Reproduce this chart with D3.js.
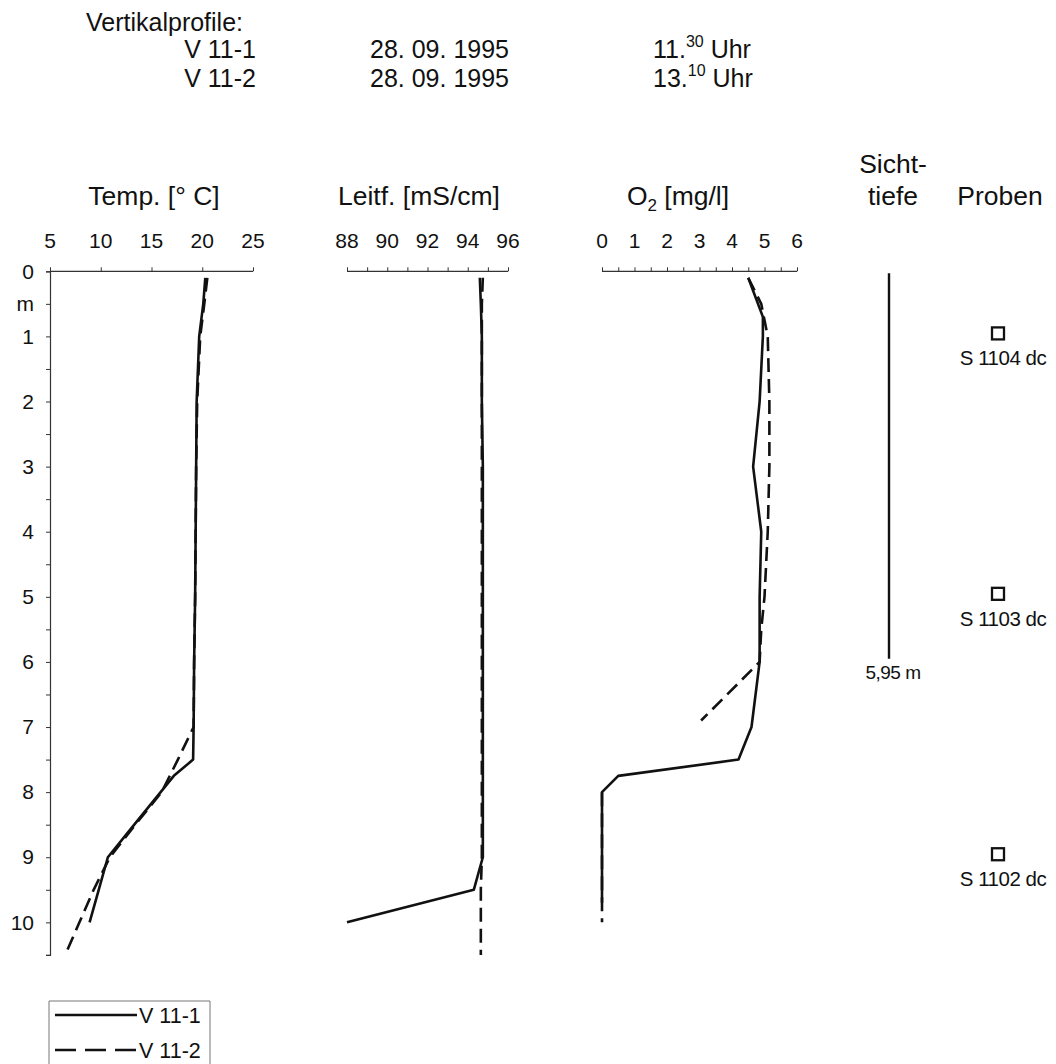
<!DOCTYPE html>
<html>
<head>
<meta charset="utf-8">
<script src="https://cdn.jsdelivr.net/npm/d3@7"></script>
<style>
  html, body { margin: 0; padding: 0; background: #fff; }
  svg { display: block; }
  text { font-family: "Liberation Sans", Arial, sans-serif; fill: #111; }
</style>
</head>
<body>
<svg id="chart" width="1056" height="1064"></svg>
<script>
// ---- Data: vertical profiles V 11-1 / V 11-2 (28.09.1995) ----
const tempDepth1 = [0.1, 0.5, 1, 2, 3, 4, 5, 6, 7, 7.5, 7.75, 8, 8.5, 9, 9.5, 10];
const tempV1     = [20.3, 20.1, 19.7, 19.45, 19.4, 19.35, 19.3, 19.2, 19.15, 19.1, 17.2, 15.9, 13.3, 10.7, 9.8, 8.9];
const tempDepth2 = [0.1, 0.5, 1, 2, 3, 4, 5, 6, 7, 7.5, 8, 8.5, 9, 9.5, 10, 10.5];
const tempV2     = [20.5, 20.2, 19.8, 19.5, 19.4, 19.35, 19.3, 19.2, 19.15, 17.6, 16.0, 13.4, 10.9, 9.3, 7.9, 6.5];

const condDepth1 = [0.1, 0.5, 1, 2, 3, 4, 5, 6, 7, 8, 9, 9.5, 10];
const condV1     = [94.6, 94.65, 94.7, 94.7, 94.75, 94.75, 94.75, 94.75, 94.75, 94.75, 94.75, 94.3, 88.0];
const condDepth2 = [0.1, 0.5, 1, 2, 3, 4, 5, 6, 7, 8, 9, 9.5, 10, 10.5];
const condV2     = [94.75, 94.7, 94.7, 94.7, 94.7, 94.7, 94.7, 94.7, 94.7, 94.7, 94.7, 94.65, 94.65, 94.65];

const oxyDepth1 = [0.1, 0.7, 1, 2, 3, 4, 5, 6, 6.8, 7, 7.5, 7.75, 8, 9, 9.7];
const oxyV1     = [4.5, 4.95, 4.95, 4.85, 4.65, 4.9, 4.85, 4.85, 4.65, 4.6, 4.2, 0.5, 0, 0, 0];
const oxyDepth2 = [0.1, 0.5, 1, 2, 3, 4, 5, 5.5, 6, 6.9, 7.5, 8, 9, 10];
const oxyV2     = [4.5, 4.9, 5.1, 5.15, 5.15, 5.1, 5.0, 4.9, 4.85, 3.05, null, 0, 0, 0];

const secchiDepth = 5.95;
const sampleNames  = ["S 1104 dc", "S 1103 dc", "S 1102 dc"];
const sampleDepths = [1, 5, 9];

const tempTicks  = [5, 10, 15, 20, 25];
const condTicks  = [88, 90, 92, 94, 96];
const oxyTicks   = [0, 1, 2, 3, 4, 5, 6];

const seriesNames = ["V 11-1", "V 11-2"];
const seriesDates = ["28. 09. 1995", "28. 09. 1995"];
const seriesHour  = ["11.", "13."];
const seriesMin   = ["30", "10"];

// ---- Layout ----
const svg = d3.select("#chart");
const DASH = "14,7";
const y = d3.scaleLinear().domain([0, 10.5]).range([271.3, 954.9]);

const xTemp = d3.scaleLinear().domain([5, 25]).range([50, 253]);
const xCond = d3.scaleLinear().domain([88, 96]).range([347, 508]);
const xOxy  = d3.scaleLinear().domain([0, 6]).range([602, 797]);

// Header block
const head = svg.append("g").style("font-size", "25px");
head.append("text").attr("x", 86).attr("y", 31).text("Vertikalprofile:");
seriesNames.forEach((n, i) => {
  const by = 58 + i * 29;
  head.append("text").attr("x", 256).attr("y", by).attr("text-anchor", "end").text(n);
  head.append("text").attr("x", 370).attr("y", by).text(seriesDates[i]);
  const t = head.append("text").attr("x", 653).attr("y", by);
  t.append("tspan").text(seriesHour[i]);
  t.append("tspan").attr("dy", -11).style("font-size", "16px").text(seriesMin[i]);
  t.append("tspan").attr("dy", 11).text("\u00a0Uhr");
});

// Panel titles
const titles = svg.append("g").style("font-size", "26.5px").attr("text-anchor", "middle");
titles.append("text").attr("x", 154).attr("y", 205).text("Temp. [° C]");
titles.append("text").attr("x", 419).attr("y", 205).text("Leitf. [mS/cm]");
const oxT = titles.append("text").attr("x", 678).attr("y", 205);
oxT.append("tspan").text("O");
oxT.append("tspan").attr("dy", 6).style("font-size", "17px").text("2");
oxT.append("tspan").attr("dy", -6).text(" [mg/l]");
titles.append("text").attr("x", 893).attr("y", 173).text("Sicht-");
titles.append("text").attr("x", 893).attr("y", 205).text("tiefe");
titles.append("text").attr("x", 1000).attr("y", 205).text("Proben");

// Depth axis (shared)
const depthAxis = d3.axisLeft(y)
  .tickValues(d3.range(0, 10.51, 0.5))
  .tickSize(4)
  .tickFormat(d => Number.isInteger(d) ? d : (d === 0.5 ? "m" : ""));
const gDepth = svg.append("g").attr("transform", "translate(50,0)").call(depthAxis);
gDepth.select(".domain").attr("stroke", "#333").attr("stroke-width", 1.2);
gDepth.selectAll(".tick line").attr("stroke", "#333").attr("stroke-width", 1);
gDepth.selectAll(".tick text")
  .attr("x", -16)
  .style("font-size", "21px")
  .style("font-family", "'Liberation Sans', Arial, sans-serif")
  .attr("fill", "#111");

// Horizontal value axes along the surface line
function topAxis(scale, ticks, minorStep) {
  const g = svg.append("g").attr("transform", `translate(0,${y(0)})`);
  const [a, b] = scale.domain();
  g.call(d3.axisTop(scale).tickValues(d3.range(a, b + 1e-9, minorStep)).tickSize(4).tickFormat(""));
  g.select(".domain").attr("stroke", "#333").attr("stroke-width", 1.2)
    .attr("d", `M${scale(a)},0H${scale(b)}`);
  g.selectAll(".tick line").attr("stroke", "#333").attr("stroke-width", 1);
  g.selectAll(".lab").data(ticks).enter().append("text")
    .attr("x", d => scale(d)).attr("y", 248 - y(0))
    .attr("text-anchor", "middle")
    .style("font-size", "21px")
    .text(d => d);
  return g;
}
topAxis(xTemp, tempTicks, 5);
topAxis(xCond, condTicks, 1);
topAxis(xOxy, oxyTicks, 0.5);

// Profile curves
function profile(scale, depths, vals, dashed) {
  const pts = depths.map((d, i) => [vals[i], d]);
  const line = d3.line()
    .defined(p => p[0] !== null)
    .x(p => scale(p[0]))
    .y(p => y(p[1]));
  svg.append("path")
    .attr("d", line(pts))
    .attr("fill", "none")
    .attr("stroke", "#111")
    .attr("stroke-width", 2.6)
    .attr("stroke-linejoin", "round")
    .attr("stroke-dasharray", dashed ? DASH : null);
}
profile(xTemp, tempDepth2, tempV2, true);
profile(xTemp, tempDepth1, tempV1, false);
profile(xCond, condDepth2, condV2, true);
profile(xCond, condDepth1, condV1, false);
profile(xOxy, oxyDepth2, oxyV2, true);
profile(xOxy, oxyDepth1, oxyV1, false);

// Secchi depth
svg.append("line")
  .attr("x1", 889).attr("x2", 889)
  .attr("y1", y(0) + 2).attr("y2", y(secchiDepth))
  .attr("stroke", "#111").attr("stroke-width", 2.4);
svg.append("text")
  .attr("x", 893).attr("y", y(secchiDepth) + 20)
  .attr("text-anchor", "middle")
  .style("font-size", "19px")
  .style("letter-spacing", "-0.5px")
  .text(secchiDepth.toFixed(2).replace(".", ",") + " m");

// Samples
sampleNames.forEach((n, i) => {
  const cy = y(sampleDepths[i]) - 3;
  svg.append("rect")
    .attr("x", 992).attr("y", cy - 6).attr("width", 12).attr("height", 12)
    .attr("fill", "#fff").attr("stroke", "#111").attr("stroke-width", 2.3);
  svg.append("text")
    .attr("x", 1003).attr("y", cy + 32)
    .attr("text-anchor", "middle")
    .style("font-size", "20.5px")
    .style("letter-spacing", "-0.5px")
    .text(n);
});

// Legend
const leg = svg.append("g");
leg.append("path")
  .attr("d", "M49,1068V1001H210V1068")
  .attr("fill", "none").attr("stroke", "#777").attr("stroke-width", 1);
seriesNames.forEach((n, i) => {
  const ly = 1015 + i * 35;
  leg.append("line")
    .attr("x1", 55).attr("x2", 137).attr("y1", ly).attr("y2", ly)
    .attr("stroke", "#111").attr("stroke-width", 2.6)
    .attr("stroke-dasharray", i === 1 ? "21,9" : null);
  leg.append("text")
    .attr("x", 139).attr("y", ly + 8)
    .style("font-size", "21.5px")
    .text(n);
});
</script>
</body>
</html>
